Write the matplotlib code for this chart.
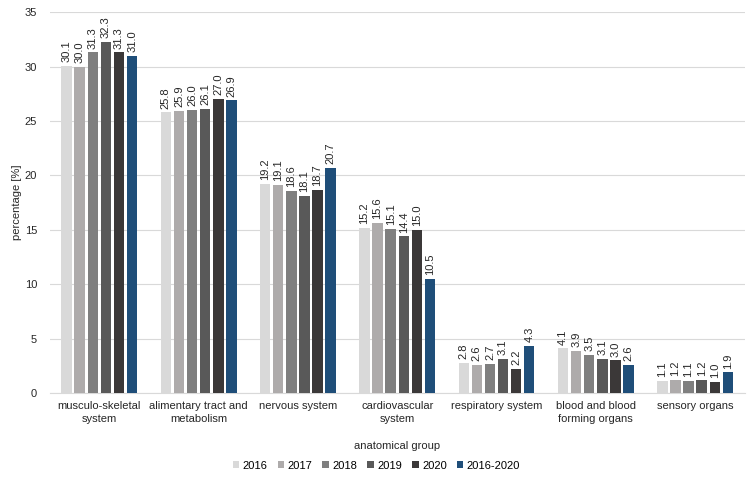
import matplotlib
matplotlib.use("Agg")
import matplotlib.pyplot as plt
import numpy as np

plt.rcParams['font.family'] = ['Liberation Sans', 'DejaVu Sans']

categories = ["musculo-skeletal\nsystem", "alimentary tract and\nmetabolism", "nervous system",
              "cardiovascular\nsystem", "respiratory system", "blood and blood\nforming organs",
              "sensory organs"]
series_names = ["2016", "2017", "2018", "2019", "2020", "2016-2020"]
values = {
    "2016":      [30.1, 25.8, 19.2, 15.2, 2.8, 4.1, 1.1],
    "2017":      [30.0, 25.9, 19.1, 15.6, 2.6, 3.9, 1.2],
    "2018":      [31.3, 26.0, 18.6, 15.1, 2.7, 3.5, 1.1],
    "2019":      [32.3, 26.1, 18.1, 14.4, 3.1, 3.1, 1.2],
    "2020":      [31.3, 27.0, 18.7, 15.0, 2.2, 3.0, 1.0],
    "2016-2020": [31.0, 26.9, 20.7, 10.5, 4.3, 2.6, 1.9],
}
colors = ["#d9d9d9", "#aeabab", "#7f7f7f", "#595959", "#3b3838", "#1f4e79"]

fig = plt.figure(figsize=(7.53, 4.79), dpi=100)
ax = fig.add_axes([0.066, 0.1795, 0.923, 0.795])

x = np.arange(len(categories))
bw = 0.105
pitch = 0.132
for i, name in enumerate(series_names):
    off = (i - 2.5) * pitch
    bars = ax.bar(x + off, values[name], width=bw, color=colors[i], label=name, zorder=3)
    for b, v in zip(bars, values[name]):
        ax.text(b.get_x() + b.get_width() / 2, v + 0.35, f"{v:.1f}", rotation=90,
                ha="center", va="bottom", fontsize=8, color="#262626")

ax.set_xlim(-0.5, len(categories) - 0.5)
ax.set_ylim(0, 35)
ax.set_yticks(np.arange(0, 36, 5))
ax.yaxis.grid(True, color="#d9d9d9", linewidth=0.8, zorder=0)
ax.set_axisbelow(True)
for s in ["top", "right", "left"]:
    ax.spines[s].set_visible(False)
ax.spines["bottom"].set_color("#d9d9d9")
ax.tick_params(axis="both", length=0, labelsize=8, colors="#262626")
ax.tick_params(axis="x", pad=6)
ax.tick_params(axis="y", pad=9)
ax.set_xticks(x)
ax.set_xticklabels(categories, fontsize=8, linespacing=1.35)
ax.set_ylabel("percentage [%]", fontsize=8, color="#262626", labelpad=2)
ax.set_xlabel("anatomical group", fontsize=8, color="#262626", labelpad=12)

handles, labels = ax.get_legend_handles_labels()
fig.legend(handles, labels, loc="center", bbox_to_anchor=(0.5, 0.028), ncol=6, frameon=False,
           fontsize=8, handlelength=0.6, handleheight=0.6, handletextpad=0.3, columnspacing=0.9)

fig.savefig("out.png", dpi=100)
